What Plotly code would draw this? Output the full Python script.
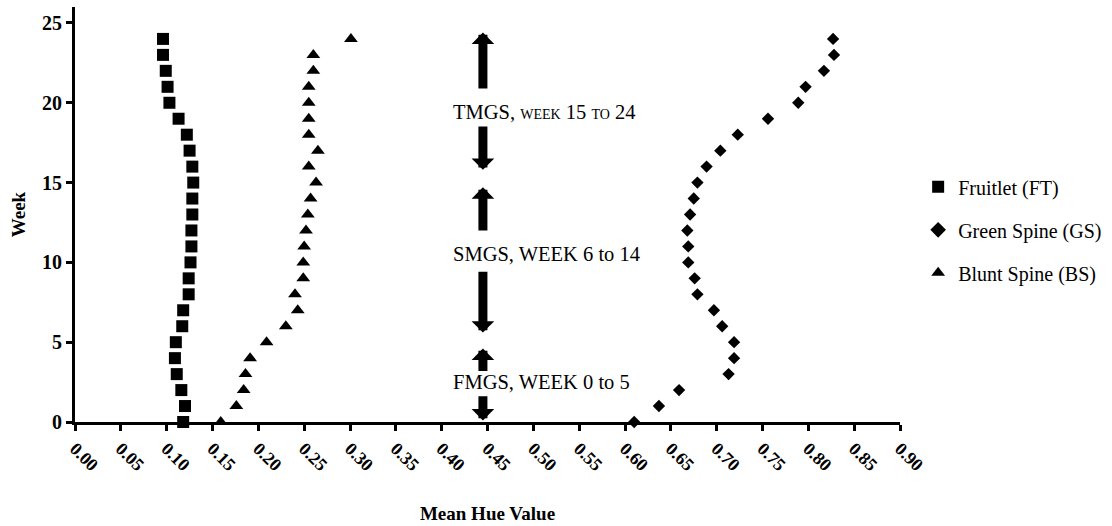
import plotly.graph_objects as go

# Weekly mean hue value of three pineapple tissues
weeks = list(range(0, 25))
fruitlet_ft = [0.118, 0.120, 0.116, 0.111, 0.109, 0.110, 0.117, 0.118, 0.124, 0.124,
               0.126, 0.127, 0.127, 0.128, 0.128, 0.129, 0.128, 0.125, 0.122, 0.113,
               0.103, 0.101, 0.099, 0.096, 0.096]
green_spine_gs = [0.610, 0.637, 0.659, 0.713, 0.719, 0.719, 0.706, 0.697, 0.679, 0.676,
                  0.669, 0.669, 0.668, 0.671, 0.675, 0.679, 0.689, 0.704, 0.723, 0.756,
                  0.789, 0.797, 0.817, 0.828, 0.827]
blunt_spine_bs = [0.159, 0.176, 0.184, 0.186, 0.191, 0.209, 0.230, 0.243, 0.240, 0.249,
                  0.249, 0.250, 0.252, 0.254, 0.257, 0.263, 0.255, 0.265, 0.255, 0.255,
                  0.255, 0.255, 0.260, 0.260, 0.301]

series_names = ["Fruitlet (FT)", "Green Spine (GS)", "Blunt Spine (BS)"]
x_ticks = [round(i * 0.05, 2) for i in range(19)]
y_ticks = [0, 5, 10, 15, 20, 25]

# Growth-stage arrows: (tail week, head week) on the hue value line
stage_hue = 0.445
stage_arrows = [(20.8, 24.4), (18.6, 15.8), (11.9, 14.7), (9.5, 5.6), (3.1, 4.6), (1.7, 0.1)]
stage_labels = [("TMGS, week 15 to 24", 19.4, "small-caps"),
                ("SMGS, WEEK 6 to 14", 10.55, "normal"),
                ("FMGS, WEEK 0 to 5", 2.5, "normal")]
label_hue = 0.41

FONT = "Liberation Serif, Times New Roman, serif"

fig = go.Figure()
for name, vals, sym, size in [
    (series_names[0], fruitlet_ft, "square", 12),
    (series_names[1], green_spine_gs, "diamond", 9.5),
    (series_names[2], blunt_spine_bs, "triangle-up", 12),
]:
    fig.add_trace(go.Scatter(
        x=vals, y=weeks, mode="markers", name=name, legendgroup=name,
        marker=dict(symbol=sym, size=size, color="black", line=dict(width=0)),
        cliponaxis=False,
    ))

annotations = []
for tail, head in stage_arrows:
    annotations.append(dict(
        x=stage_hue, y=head, ax=stage_hue, ay=tail, xref="x", yref="y",
        axref="x", ayref="y", text="", showarrow=True, arrowhead=1,
        arrowsize=0.42, arrowwidth=9, arrowcolor="black",
    ))
for text, wk, variant in stage_labels:
    annotations.append(dict(
        x=label_hue, y=wk, xref="x", yref="y", text=text, showarrow=False,
        xanchor="left", yanchor="middle",
        font=dict(family=FONT, size=20.5, color="black", variant=variant),
    ))

fig.update_layout(
    width=1112, height=526,
    margin=dict(l=75, r=212, t=7, b=104, autoexpand=False),
    paper_bgcolor="white", plot_bgcolor="white",
    font=dict(family=FONT, color="black", size=20),
    showlegend=True,
    legend=dict(
        x=1.022, y=0.463, xanchor="left", yanchor="middle",
        traceorder="grouped", tracegroupgap=14,
        font=dict(family=FONT, size=20, color="black"),
        itemsizing="constant",
    ),
    annotations=annotations,
)
fig.update_xaxes(
    range=[0, 0.9], tickvals=x_ticks, ticktext=[f"{v:.2f}" for v in x_ticks],
    tickangle=45, showgrid=False, zeroline=False,
    showline=True, linecolor="black", linewidth=3,
    ticks="outside", ticklen=6, tickwidth=3, tickcolor="black",
    tickfont=dict(family=FONT, size=18, weight="bold"),
    title=dict(text="Mean Hue Value", font=dict(family=FONT, size=19, weight="bold"), standoff=33),
)
fig.update_yaxes(
    range=[0, 26], tickvals=y_ticks, showgrid=False, zeroline=False,
    showline=True, linecolor="black", linewidth=3,
    ticks="outside", ticklen=6, tickwidth=3, tickcolor="black",
    tickfont=dict(family=FONT, size=20, weight="bold"),
    title=dict(text="Week", font=dict(family=FONT, size=19, weight="bold"), standoff=12),
)

fig.write_html("out.html")
